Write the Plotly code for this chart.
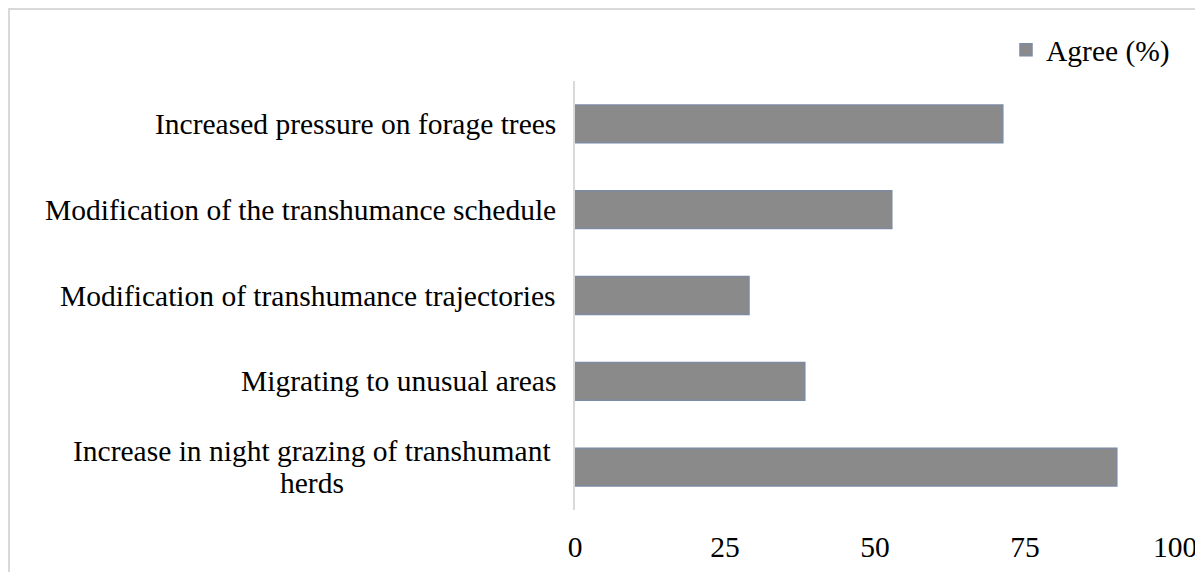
import plotly.graph_objects as go

categories = [
    "Increase in night grazing of transhumant<br>herds",
    "Migrating to unusual areas",
    "Modification of transhumance trajectories",
    "Modification of the transhumance schedule",
    "Increased pressure on forage trees",
]
agree = [90.3, 38.3, 29.0, 52.8, 71.3]
x_ticks = [0, 25, 50, 75, 100]
series_name = "Agree (%)"

FONT = "Liberation Serif, Times New Roman, serif"
FS = 29.5
LINE_GAP = 32  # px between wrapped label lines

W, H = 1195, 564
ML, MR, MT, MB = 567, 28, 73, 62
PW, PH = W - ML - MR, H - MT - MB

fig = go.Figure()
fig.add_trace(go.Bar(
    y=categories, x=agree, orientation="h", name=series_name,
    width=0.44,
    marker=dict(color="#8a8a8a", line=dict(color="#7d8aa3", width=1.5)),
    showlegend=True,
))

annotations = []
for c in categories:
    lines = c.split("<br>")
    n = len(lines)
    for i, ln in enumerate(lines):
        annotations.append(dict(
            xref="paper", yref="y", x=0, y=c, text=ln, showarrow=False,
            xanchor="center" if n > 1 else "right", yanchor="middle",
            xshift=(-17 if n == 1 else -263),
            yshift=((n - 1) / 2 - i) * LINE_GAP,
            font=dict(family=FONT, size=FS, color="#000000"),
        ))

fig.update_layout(
    width=W, height=H,
    margin=dict(l=ML, r=MR, t=MT, b=MB, autoexpand=False),
    paper_bgcolor="white", plot_bgcolor="white",
    font=dict(family=FONT, size=FS, color="#000000"),
    annotations=annotations,
    legend=dict(x=1.0, xanchor="right", y=1 + 31 / PH, yanchor="middle",
                font=dict(family=FONT, size=FS, color="#000000"),
                bgcolor="rgba(0,0,0,0)", itemwidth=30,
                traceorder="normal"),
    shapes=[dict(type="rect", xref="paper", yref="paper",
                 x0=-(ML - 1) / PW, x1=1 + (MR + 20) / PW,
                 y0=-(MB + 20) / PH, y1=1 + (MT - 1) / PH,
                 line=dict(color="#d9d9d9", width=2), fillcolor="rgba(0,0,0,0)",
                 layer="below")],
    xaxis=dict(range=[0, 100], tickvals=x_ticks, showgrid=False, zeroline=False,
               showline=False, ticks="", ticklabelstandoff=16,
               tickfont=dict(family=FONT, size=FS, color="#000000"),
               fixedrange=True),
    yaxis=dict(categoryorder="array", categoryarray=categories,
               showticklabels=False, showgrid=False, zeroline=False,
               showline=True, linecolor="#d9d9d9", linewidth=2, ticks="",
               fixedrange=True),
)

fig.write_html("out.html")
